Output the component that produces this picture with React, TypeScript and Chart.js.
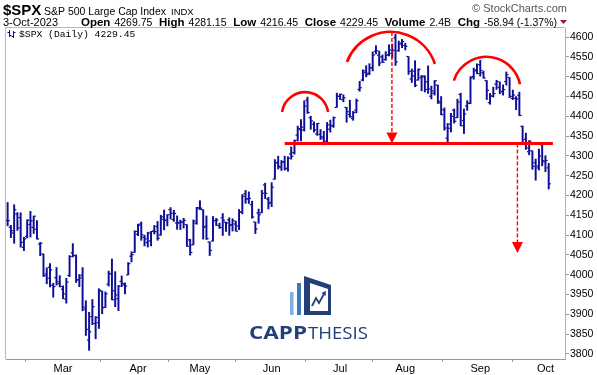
import React, { useEffect, useRef } from "react";
import { Chart, registerables } from "chart.js";
Chart.register(...registerables);

// ---- data (2023 daily, $SPX) ----
const dates = [
  "02-03","02-06","02-07","02-08","02-09","02-10","02-13","02-14","02-15","02-16","02-17","02-21","02-22","02-23","02-24","02-27","02-28",
  "03-01","03-02","03-03","03-06","03-07","03-08","03-09","03-10","03-13","03-14","03-15","03-16","03-17","03-20","03-21","03-22","03-23","03-24","03-27","03-28","03-29","03-30","03-31",
  "04-03","04-04","04-05","04-06","04-10","04-11","04-12","04-13","04-14","04-17","04-18","04-19","04-20","04-21","04-24","04-25","04-26","04-27","04-28",
  "05-01","05-02","05-03","05-04","05-05","05-08","05-09","05-10","05-11","05-12","05-15","05-16","05-17","05-18","05-19","05-22","05-23","05-24","05-25","05-26","05-30","05-31",
  "06-01","06-02","06-05","06-06","06-07","06-08","06-09","06-12","06-13","06-14","06-15","06-16","06-20","06-21","06-22","06-23","06-26","06-27","06-28","06-29","06-30",
  "07-03","07-05","07-06","07-07","07-10","07-11","07-12","07-13","07-14","07-17","07-18","07-19","07-20","07-21","07-24","07-25","07-26","07-27","07-28","07-31",
  "08-01","08-02","08-03","08-04","08-07","08-08","08-09","08-10","08-11","08-14","08-15","08-16","08-17","08-18","08-21","08-22","08-23","08-24","08-25","08-28","08-29","08-30","08-31",
  "09-01","09-05","09-06","09-07","09-08","09-11","09-12","09-13","09-14","09-15","09-18","09-19","09-20","09-21","09-22","09-25","09-26","09-27","09-28","09-29",
  "10-02","10-03",
];
const opens = [
  4136.69,4119.57,4105.35,4153.10,4144.25,4068.92,4096.62,4126.70,4119.50,4114.75,4077.39,4052.35,4001.83,4018.60,3973.24,3992.36,3977.19,
  3963.34,3938.68,3998.02,4055.15,4048.26,3987.55,3998.66,3912.77,3835.12,3894.01,3876.74,3878.93,3958.69,3917.47,3975.89,4002.04,3959.21,3939.21,3982.93,3974.13,3999.53,4046.74,4056.18,
  4102.20,4128.03,4094.50,4081.15,4085.20,4110.29,4121.72,4100.04,4140.11,4137.17,4164.26,4139.33,4130.48,4132.14,4132.07,4126.43,4087.78,4075.29,4129.63,
  4166.79,4164.10,4122.25,4082.61,4084.73,4136.98,4124.25,4143.74,4132.24,4138.54,4126.65,4127.95,4122.85,4157.68,4204.15,4190.78,4176.80,4132.96,4155.71,4156.16,4226.71,4190.74,
  4183.03,4241.01,4282.99,4271.34,4285.47,4268.69,4304.88,4308.32,4352.61,4366.29,4365.33,4440.95,4396.11,4380.01,4355.40,4354.17,4344.84,4337.36,4367.48,4374.94,4422.44,
  4450.48,4442.04,4422.62,4404.54,4394.23,4415.55,4467.69,4491.50,4514.61,4508.86,4521.78,4563.87,4554.38,4550.16,4543.39,4555.19,4558.96,4598.26,4565.75,4584.82,
  4578.83,4550.93,4494.27,4513.96,4491.58,4498.03,4501.57,4487.16,4450.69,4458.13,4478.87,4433.79,4416.32,4344.88,4380.28,4415.33,4396.44,4455.16,4389.38,4426.03,4432.75,4500.34,4517.01,
  4530.60,4510.06,4490.35,4434.55,4451.30,4480.98,4473.27,4462.65,4487.78,4497.98,4445.13,4445.41,4452.81,4374.36,4341.74,4310.62,4312.88,4282.63,4269.65,4328.18,
  4284.52,4269.75,
];
const highs = [
  4182.36,4124.63,4176.54,4156.85,4156.23,4094.36,4138.90,4159.77,4148.11,4136.54,4081.51,4052.35,4017.37,4028.30,3978.25,4018.05,3997.50,
  3971.73,3990.84,4048.29,4078.49,4050.00,4000.41,4017.81,3934.05,3905.05,3937.29,3894.26,3964.46,3958.91,3956.62,4009.08,4039.49,4007.66,3972.74,3996.66,3979.20,4030.59,4057.85,4110.75,
  4127.66,4133.13,4099.69,4107.32,4109.50,4124.26,4134.37,4150.26,4163.19,4151.72,4169.48,4162.57,4148.57,4138.02,4142.41,4126.43,4089.67,4138.24,4170.06,
  4186.92,4164.10,4148.30,4082.61,4147.02,4142.30,4130.35,4154.28,4132.80,4143.74,4141.25,4135.54,4164.67,4202.20,4212.91,4209.22,4185.68,4132.96,4165.74,4212.87,4231.10,4195.44,
  4232.43,4290.67,4299.28,4288.33,4299.19,4298.01,4322.62,4340.13,4375.37,4391.82,4439.20,4448.47,4400.15,4386.22,4382.25,4366.55,4362.06,4384.42,4390.35,4398.39,4458.48,
  4456.46,4454.06,4422.62,4440.39,4412.60,4443.64,4488.34,4517.38,4527.76,4532.85,4562.30,4578.43,4564.74,4555.00,4563.41,4580.62,4582.47,4607.07,4590.16,4594.22,
  4584.62,4550.93,4519.49,4540.34,4519.84,4503.31,4502.44,4527.37,4476.23,4490.33,4478.87,4449.95,4421.17,4381.82,4407.55,4418.59,4443.18,4458.30,4418.46,4439.56,4500.14,4521.65,4532.26,
  4541.25,4514.29,4490.35,4457.81,4473.53,4490.77,4487.11,4479.39,4511.99,4497.98,4466.36,4449.85,4461.03,4375.70,4357.40,4338.51,4313.01,4292.07,4317.27,4333.15,
  4300.58,4281.15,
];
const lows = [
  4123.36,4093.38,4079.25,4111.67,4069.67,4060.79,4092.67,4095.01,4103.98,4089.49,4047.95,3995.19,3976.90,3969.19,3943.08,3973.55,3968.98,
  3939.05,3928.16,3995.17,4044.61,3980.31,3969.76,3908.70,3846.32,3808.86,3873.63,3838.24,3864.11,3901.27,3916.89,3971.19,3936.17,3919.05,3909.16,3969.79,3951.53,3999.53,4032.10,4056.18,
  4098.79,4086.87,4072.56,4069.84,4072.55,4102.61,4086.94,4099.40,4113.20,4123.18,4140.36,4134.49,4114.57,4113.86,4117.77,4071.38,4049.35,4075.29,4127.18,
  4164.12,4089.72,4088.86,4048.28,4084.73,4123.81,4116.65,4098.92,4109.29,4099.12,4110.27,4109.86,4113.62,4153.50,4180.20,4179.68,4142.54,4103.98,4129.73,4156.16,4192.18,4166.15,
  4171.64,4241.01,4266.82,4263.09,4263.96,4261.07,4291.70,4304.37,4337.66,4337.85,4362.60,4407.44,4367.19,4360.14,4351.82,4341.34,4328.08,4335.00,4360.22,4371.97,4422.44,
  4442.29,4436.61,4385.05,4397.40,4389.92,4408.46,4463.23,4489.36,4499.56,4504.90,4514.59,4557.48,4527.56,4535.79,4541.29,4552.42,4547.58,4528.56,4564.01,4573.14,
  4567.53,4505.75,4485.54,4474.55,4491.15,4464.39,4461.33,4457.92,4443.98,4453.44,4432.19,4403.55,4364.83,4335.31,4360.30,4382.77,4396.44,4375.55,4356.29,4414.98,4431.68,4493.59,4507.39,
  4501.35,4496.01,4442.38,4430.46,4448.38,4467.89,4456.83,4453.52,4478.69,4447.21,4442.11,4416.61,4401.38,4329.17,4316.49,4302.70,4265.98,4238.63,4264.38,4274.86,
  4260.21,4216.45,
];
const closes = [
  4136.48,4111.08,4164.00,4117.86,4081.50,4090.46,4137.29,4136.13,4147.60,4090.41,4079.09,3997.34,3991.05,4012.32,3970.04,3982.24,3970.15,
  3951.39,3981.35,4045.64,4048.42,3986.37,3992.01,3918.32,3861.59,3855.76,3919.29,3891.93,3960.28,3916.64,3951.57,4002.87,3936.97,3948.72,3970.99,3977.53,3971.27,4027.81,4050.83,4109.31,
  4124.51,4100.60,4090.38,4105.02,4109.11,4108.94,4091.95,4146.22,4137.64,4151.32,4154.87,4154.52,4129.79,4133.52,4137.04,4071.63,4055.99,4135.35,4169.48,
  4167.87,4119.58,4090.75,4061.22,4136.25,4138.12,4119.17,4137.64,4130.62,4124.08,4136.28,4109.90,4158.77,4198.05,4191.98,4192.63,4145.58,4115.24,4151.28,4205.45,4205.52,4179.83,
  4221.02,4282.37,4273.79,4283.85,4267.52,4293.93,4298.86,4338.93,4369.01,4372.59,4425.84,4409.59,4388.71,4365.69,4381.89,4348.33,4328.82,4378.41,4376.86,4396.44,4450.38,
  4455.59,4446.82,4411.59,4398.95,4409.53,4439.26,4472.16,4510.04,4505.42,4522.79,4554.98,4565.72,4534.87,4536.34,4554.64,4567.46,4566.75,4537.41,4582.23,4588.96,
  4576.73,4513.39,4501.89,4478.03,4518.44,4499.38,4467.71,4468.83,4464.05,4489.72,4437.86,4404.33,4370.36,4369.71,4399.77,4387.55,4436.01,4376.31,4405.71,4433.31,4497.63,4514.87,4507.66,
  4515.77,4496.83,4465.48,4451.14,4457.49,4487.46,4461.90,4467.44,4505.10,4450.32,4453.53,4443.95,4402.20,4330.00,4320.06,4337.44,4273.53,4274.51,4299.70,4288.05,
  4288.39,4229.45,
];
const yTicks = [3800,3850,3900,3950,4000,4050,4100,4150,4200,4250,4300,4350,4400,4450,4500,4550,4600];
const monthNums = ["03","04","05","06","07","08","09","10"];
const monthNames = ["Mar","Apr","May","Jun","Jul","Aug","Sep","Oct"];
const headerLabels = ["Open","High","Low","Close","Volume","Chg"];
const headerValues = ["4269.75","4281.15","4216.45","4229.45","2.4B","-58.94 (-1.37%)"];

// ---- head & shoulders annotation (in data units: bar index, price) ----
const neckline = 4331;
const necklineFrom = 85;
const necklineTo = 167.3;
const arcStartIdx = [84.2, 104.1, 136.9];
const arcPeakIdx = [91.2, 117.9, 146.7];
const arcEndIdx = [98.3, 131.1, 157.2];
const arcStartVal = [4411, 4537, 4490];
const arcPeakVal = [4461, 4613, 4550];
const arcEndVal = [4411, 4532, 4481];
const arrowIdx = [117.9, 156.4];
const arrowFrom = [4613, 4331];
const arrowTo = [4331, 4055];

const BAR = "#0d0d96";
const RED = "#ff0000";
const monthIdx = monthNums.map((m) => dates.findIndex((d) => d.startsWith(m)));

const ohlcTicks = {
  id: "ohlcTicks",
  afterDatasetsDraw(chart: any) {
    const { ctx, scales } = chart;
    const x = scales.x, y = scales.y;
    ctx.save();
    ctx.fillStyle = BAR;
    for (let i = 0; i < dates.length; i++) {
      const px = x.getPixelForValue(i);
      const yo = y.getPixelForValue(opens[i]);
      const yc = y.getPixelForValue(closes[i]);
      ctx.fillRect(px - 2.2, yo - 0.6, 1.7, 1.2);
      ctx.fillRect(px + 0.5, yc - 0.6, 1.7, 1.2);
    }
    ctx.restore();
  },
};

function circle3(p1: number[], p2: number[], p3: number[]) {
  const [ax, ay] = p1, [bx, by] = p2, [cx, cy] = p3;
  const d = 2 * (ax * (by - cy) + bx * (cy - ay) + cx * (ay - by));
  const ux = ((ax * ax + ay * ay) * (by - cy) + (bx * bx + by * by) * (cy - ay) + (cx * cx + cy * cy) * (ay - by)) / d;
  const uy = ((ax * ax + ay * ay) * (cx - bx) + (bx * bx + by * by) * (ax - cx) + (cx * cx + cy * cy) * (bx - ax)) / d;
  return { ux, uy, r: Math.hypot(ax - ux, ay - uy) };
}

const annotations = {
  id: "hsAnnotations",
  afterDatasetsDraw(chart: any) {
    const { ctx, scales } = chart;
    const x = scales.x, y = scales.y;
    ctx.save();
    ctx.strokeStyle = RED;
    ctx.fillStyle = RED;
    ctx.lineWidth = 3;
    ctx.beginPath();
    const ny = y.getPixelForValue(neckline);
    ctx.moveTo(x.getPixelForValue(necklineFrom), ny);
    ctx.lineTo(x.getPixelForValue(necklineTo), ny);
    ctx.stroke();
    ctx.lineWidth = 2.6;
    for (let k = 0; k < arcStartIdx.length; k++) {
      const p1 = [x.getPixelForValue(arcStartIdx[k]), y.getPixelForValue(arcStartVal[k])];
      const p2 = [x.getPixelForValue(arcPeakIdx[k]), y.getPixelForValue(arcPeakVal[k])];
      const p3 = [x.getPixelForValue(arcEndIdx[k]), y.getPixelForValue(arcEndVal[k])];
      const c = circle3(p1, p2, p3);
      const a1 = Math.atan2(p1[1] - c.uy, p1[0] - c.ux);
      const a3 = Math.atan2(p3[1] - c.uy, p3[0] - c.ux);
      ctx.beginPath();
      ctx.arc(c.ux, c.uy, c.r, a1, a3, false);
      ctx.stroke();
    }
    for (let k = 0; k < arrowIdx.length; k++) {
      const ax = x.getPixelForValue(arrowIdx[k]);
      const y0 = y.getPixelForValue(arrowFrom[k]);
      const y1 = y.getPixelForValue(arrowTo[k]);
      ctx.lineWidth = 1.4;
      ctx.setLineDash([4, 2]);
      ctx.beginPath();
      ctx.moveTo(ax, y0);
      ctx.lineTo(ax, y1 - 10);
      ctx.stroke();
      ctx.setLineDash([]);
      ctx.beginPath();
      ctx.moveTo(ax - 5.5, y1 - 11);
      ctx.lineTo(ax + 5.5, y1 - 11);
      ctx.lineTo(ax, y1);
      ctx.closePath();
      ctx.fill();
    }
    ctx.restore();
  },
};

const frameAndText = {
  id: "frameAndText",
  beforeDatasetsDraw(chart: any) {
    const { ctx } = chart;
    ctx.save();
    // watermark logo
    ctx.fillStyle = "#7fb2e2";
    ctx.fillRect(290, 292, 3.5, 23);
    ctx.fillStyle = "#3b78c0";
    ctx.fillRect(297, 283, 4, 32);
    ctx.fillStyle = "#233f78";
    ctx.beginPath();
    ctx.moveTo(304, 276);
    ctx.lineTo(331, 285);
    ctx.lineTo(331, 315);
    ctx.lineTo(304, 315);
    ctx.closePath();
    ctx.fill();
    ctx.fillStyle = "#ffffff";
    ctx.beginPath();
    ctx.moveTo(310, 283);
    ctx.lineTo(328, 289);
    ctx.lineTo(328, 311);
    ctx.lineTo(310, 311);
    ctx.closePath();
    ctx.fill();
    ctx.strokeStyle = "#233f78";
    ctx.lineWidth = 1.8;
    ctx.beginPath();
    ctx.moveTo(312, 306);
    ctx.lineTo(316, 298);
    ctx.lineTo(319, 303);
    ctx.lineTo(324, 294);
    ctx.stroke();
    ctx.fillStyle = "#233f78";
    ctx.beginPath();
    ctx.moveTo(326, 291);
    ctx.lineTo(321.5, 293);
    ctx.lineTo(325.5, 296);
    ctx.closePath();
    ctx.fill();
    const drawStretched = (t: string, font: string, x0: number, w: number) => {
      ctx.font = font;
      const m = ctx.measureText(t).width;
      ctx.save();
      ctx.translate(x0, 339);
      ctx.scale(w / m, 1);
      ctx.fillText(t, 0, 0);
      ctx.restore();
    };
    ctx.fillStyle = "#233f78";
    ctx.textBaseline = "alphabetic";
    drawStretched("CAPP", "bold 17px 'Open Sans'", 249, 58);
    drawStretched("THESIS", "17px 'Open Sans'", 308, 60);
    ctx.restore();
  },
  afterDraw(chart: any) {
    const { ctx, chartArea } = chart;
    ctx.save();
    ctx.strokeStyle = "#b8b8b8";
    ctx.lineWidth = 1;
    ctx.beginPath();
    ctx.moveTo(chartArea.left - 0.5, chartArea.bottom);
    ctx.lineTo(chartArea.left - 0.5, chartArea.top - 0.5);
    ctx.lineTo(chartArea.right, chartArea.top - 0.5);
    ctx.stroke();
    // header line 1
    ctx.fillStyle = "#000";
    ctx.textBaseline = "alphabetic";
    ctx.textAlign = "left";
    ctx.font = "bold 15px 'Liberation Sans'";
    ctx.fillText("$SPX", 3, 15);
    ctx.font = "10.5px 'Liberation Sans'";
    const t1 = "S&P 500 Large Cap Index";
    ctx.fillText(t1, 44, 15);
    const w1 = ctx.measureText(t1).width;
    ctx.font = "9.5px 'Liberation Sans'";
    ctx.fillText("INDX", 44 + w1 + 5, 15);
    ctx.fillStyle = "#555";
    ctx.font = "11px 'Liberation Sans'";
    ctx.textAlign = "right";
    ctx.fillText("\u00A9 StockCharts.com", 567, 12);
    // header line 2
    ctx.textAlign = "left";
    ctx.fillStyle = "#000";
    ctx.font = "11px 'Liberation Sans'";
    ctx.fillText("3-Oct-2023", 3, 26);
    const labFont = "bold 11.5px 'Liberation Sans'";
    const valFont = "10.5px 'Liberation Sans'";
    const inner = 4;
    let total = 0;
    const lw: number[] = [], vw: number[] = [];
    for (let k = 0; k < headerLabels.length; k++) {
      ctx.font = labFont;
      lw.push(ctx.measureText(headerLabels[k]).width);
      ctx.font = valFont;
      vw.push(ctx.measureText(headerValues[k]).width);
      total += lw[k] + inner + vw[k];
    }
    const start = 81, end = 557;
    const gap = (end - start - total) / (headerLabels.length - 1);
    let cx = start;
    for (let k = 0; k < headerLabels.length; k++) {
      ctx.font = labFont;
      ctx.fillText(headerLabels[k], cx, 26);
      cx += lw[k] + inner;
      ctx.font = valFont;
      ctx.fillText(headerValues[k], cx, 26);
      cx += vw[k] + gap;
    }
    ctx.fillStyle = "#8b1a3c";
    ctx.beginPath();
    ctx.moveTo(560, 20);
    ctx.lineTo(567, 20);
    ctx.lineTo(563.5, 24);
    ctx.closePath();
    ctx.fill();
    // legend
    ctx.fillStyle = BAR;
    ctx.fillRect(9, 30, 1, 7);
    ctx.fillRect(7.5, 32, 1.5, 1);
    ctx.fillRect(10, 35, 1.5, 1);
    ctx.fillRect(13, 31, 1, 7);
    ctx.fillRect(11.5, 36, 1.5, 1);
    ctx.fillRect(14, 32, 1.5, 1);
    ctx.fillStyle = "#000";
    ctx.font = "9.7px 'Liberation Mono'";
    ctx.fillText("$SPX (Daily) 4229.45", 19, 37);
    ctx.restore();
  },
};

export default function App() {
  const ref = useRef<HTMLCanvasElement | null>(null);
  useEffect(() => {
    if (!ref.current) return;
    Chart.defaults.font.family = "'Liberation Sans', Arial, sans-serif";
    const chart = new Chart(ref.current, {
      type: "bar",
      data: {
        datasets: [
          {
            data: dates.map((d, i) => ({ x: i, y: [lows[i], highs[i]] })) as any,
            backgroundColor: BAR,
            borderWidth: 0,
            barThickness: 1.3,
          },
        ],
      },
      options: {
        animation: false,
        responsive: false,
        maintainAspectRatio: false,
        layout: { padding: { left: 6, top: 28, right: 0, bottom: 0 } },
        plugins: { legend: { display: false }, tooltip: { enabled: false } },
        scales: {
          x: {
            type: "linear",
            min: -0.5,
            max: 171,
            offset: false,
            grid: { drawOnChartArea: false, drawTicks: true, tickLength: 3, color: "#999" },
            border: { display: true, color: "#999", dash: [1, 1] },
            ticks: {
              autoSkip: false,
              maxRotation: 0,
              padding: 0,
              color: "#000",
              font: { size: 11 },
              callback: (v: any) => {
                const k = monthIdx.indexOf(Number(v));
                return k >= 0 ? monthNames[k] : "";
              },
            },
            afterBuildTicks: (s: any) => {
              s.ticks = monthIdx.map((v) => ({ value: v }));
            },
            afterFit: (s: any) => {
              s.height = 16;
            },
          },
          y: {
            position: "right",
            min: 3787,
            max: 4623,
            grid: { drawOnChartArea: false, tickLength: 4, color: "#999" },
            border: { color: "#b0b0b0" },
            ticks: { padding: 1, color: "#000", font: { size: 10.5 }, callback: (v: any) => String(v) },
            afterBuildTicks: (s: any) => {
              s.ticks = yTicks.map((v) => ({ value: v }));
            },
            afterFit: (s: any) => {
              s.width = 32;
            },
          },
        },
      },
      plugins: [frameAndText, ohlcTicks, annotations],
    } as any);
    return () => chart.destroy();
  }, []);
  return (
    <div style={{ position: "fixed", left: 0, top: 0, width: 597, height: 375, background: "#fff" }}>
      <canvas ref={ref} width={597} height={375} style={{ width: 597, height: 375, display: "block" }} />
    </div>
  );
}
